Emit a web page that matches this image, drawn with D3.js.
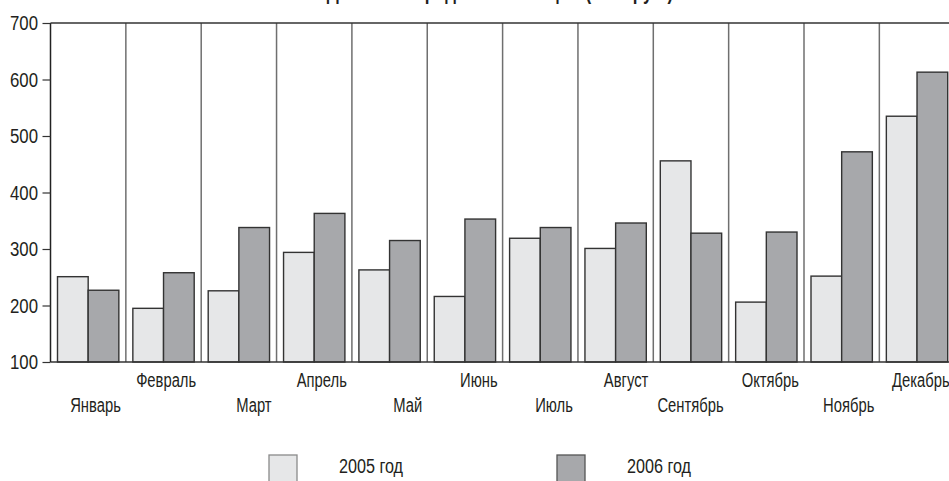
<!DOCTYPE html>
<html>
<head>
<meta charset="utf-8">
<script src="https://cdn.jsdelivr.net/npm/d3@7"></script>
<style>
  html, body { margin: 0; padding: 0; background: #fff; }
  svg { display: block; }
  text { font-family: "Liberation Sans", Arial, sans-serif; fill: #231f20; }
</style>
</head>
<body>
<svg id="chart" width="949" height="481"></svg>
<script>
const title = "Динамика продаж по месяцам (тыс. руб.)";
const months = ["Январь","Февраль","Март","Апрель","Май","Июнь","Июль","Август","Сентябрь","Октябрь","Ноябрь","Декабрь"];
const seriesNames = ["2005 год","2006 год"];
const values2005 = [251, 195, 226, 294, 263, 216, 319, 301, 456, 206, 252, 535];
const values2006 = [227, 258, 338, 363, 315, 353, 338, 346, 328, 330, 472, 613];
const yTicks = [100, 200, 300, 400, 500, 600, 700];
const colors = ["#e6e7e8", "#a7a8ab"];

(function () {
const svg = d3.select("#chart");
const W = 949;
const SX = 0.77; // horizontal condensing of the text
const plotLeft = 50.5, plotTop = 23, plotBottom = 362;

const x = d3.scaleBand().domain(months).range([plotLeft, plotLeft + 12 * 75.35]).paddingInner(0).paddingOuter(0);
const x1 = d3.scaleBand().domain(seriesNames).range([7, x.bandwidth() - 7]).padding(0);
const y = d3.scaleLinear().domain([100, 700]).range([plotBottom, plotTop]);

// title (clipped at top, as in the reference)
svg.append("g").attr("transform", `translate(500,-1) scale(${SX},1)`)
  .append("text")
  .attr("text-anchor", "middle")
  .style("font-size", "22px").style("font-weight", "bold")
  .text(title);

// bars
const data = months.map((m, i) => ({ month: m, vals: [values2005[i], values2006[i]] }));
const groups = svg.append("g").selectAll("g.m").data(data).join("g")
  .attr("class", "m")
  .attr("transform", d => `translate(${x(d.month)},0)`);
groups.selectAll("rect").data(d => d.vals.map((v, k) => ({ s: seriesNames[k], v, k })))
  .join("rect")
  .attr("x", d => x1(d.s))
  .attr("y", d => y(d.v))
  .attr("width", x1.bandwidth())
  .attr("height", d => y(100) - y(d.v))
  .attr("fill", d => colors[d.k])
  .attr("stroke", "#333")
  .attr("stroke-width", 1.4);

// separators
svg.append("g").selectAll("line").data(months.slice(1)).join("line")
  .attr("x1", d => x(d)).attr("x2", d => x(d))
  .attr("y1", plotTop).attr("y2", plotBottom)
  .attr("stroke", "#6f6f6f").attr("stroke-width", 1.5);

// frame lines
svg.append("line").attr("x1", plotLeft).attr("x2", W).attr("y1", plotTop).attr("y2", plotTop)
  .attr("stroke", "#333").attr("stroke-width", 1.5);
svg.append("line").attr("x1", plotLeft).attr("x2", W).attr("y1", plotBottom).attr("y2", plotBottom)
  .attr("stroke", "#333").attr("stroke-width", 1.5);
svg.append("line").attr("x1", plotLeft).attr("x2", plotLeft).attr("y1", plotTop).attr("y2", plotBottom)
  .attr("stroke", "#222").attr("stroke-width", 1.5);

// y axis
const yAxis = svg.append("g").attr("transform", `translate(${plotLeft},0)`)
  .call(d3.axisLeft(y).tickValues(yTicks).tickSize(8).tickPadding(4).tickFormat(d3.format("d")));
yAxis.select(".domain").remove();
yAxis.selectAll(".tick line").attr("stroke", "#333").attr("stroke-width", 1.2);
yAxis.selectAll(".tick text")
  .attr("x", -12.5 / 0.8)
  .attr("transform", "scale(0.8,1)")
  .attr("fill", "#231f20")
  .style("font-size", "21px")
  .style("font-family", '"Liberation Sans", Arial, sans-serif');

// month labels (staggered, right aligned)
svg.append("g").selectAll("g").data(months).join("g")
  .attr("transform", (d, i) => `translate(${x(d) + x.bandwidth() - 5},${i % 2 === 0 ? 412 : 387}) scale(${SX * 0.96},1)`)
  .append("text")
  .attr("text-anchor", "end")
  .style("font-size", "20px")
  .text(d => d);

// legend
const legendX = [269, 557];
const leg = svg.append("g").selectAll("g").data(seriesNames).join("g")
  .attr("transform", (d, i) => `translate(${legendX[i]},455)`);
leg.append("rect").attr("width", 28).attr("height", 28)
  .attr("fill", (d, i) => colors[i])
  .attr("stroke", (d, i) => i === 0 ? "#8a8a8a" : "#555").attr("stroke-width", 1.3);
leg.append("g").attr("transform", `translate(70,18) scale(${SX},1)`)
  .append("text")
  .style("font-size", "21px").text(d => d);
})();
</script>
</body>
</html>
